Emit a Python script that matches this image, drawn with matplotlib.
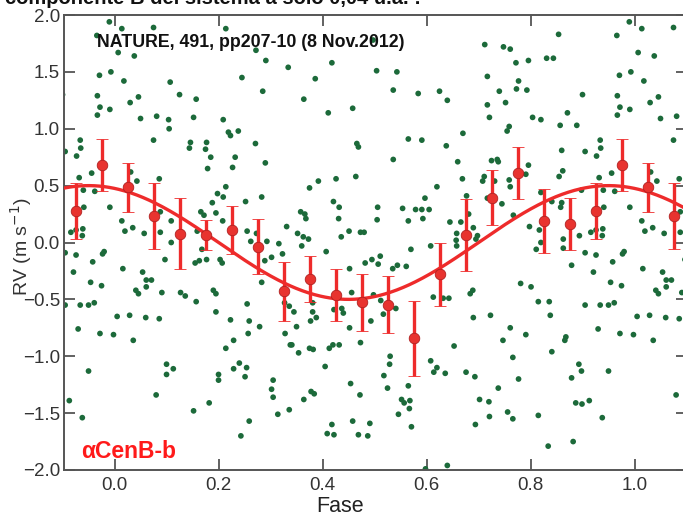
import numpy as np
import matplotlib
matplotlib.use("Agg")
import matplotlib.pyplot as plt

plt.rcParams['font.family'] = ['Liberation Sans', 'DejaVu Sans']

# ---------------- data (phase 0..1) ----------------
phase_obs = [
    0.014, 0.075, 0.214, 0.007, 0.038, 0.272, 0.291, 0.334, 0.018, 0.107, 0.245, 0.285, 0.046, 0.125, 0.157, 0.030,
    0.050, 0.081, 0.104, 0.105, 0.152, 0.209, 0.219, 0.223, 0.238, 0.075, 0.146, 0.144, 0.177, 0.175, 0.185, 0.232,
    0.271, 0.290, 0.227, 0.179, 0.031, 0.043, 0.086, 0.214, 0.198, 0.188, 0.209, 0.252, 0.283, 0.088, 0.166, 0.172,
    0.195, 0.014, 0.109, 0.208, 0.035, 0.020, 0.057, 0.088, 0.159, 0.255, 0.273, 0.331, 0.109, 0.316,
    0.262, 0.293, 0.168, 0.097, 0.155, 0.163, 0.177, 0.203, 0.207, 0.289, 0.302, 0.323, 0.016, 0.054, 0.061, 0.071,
    0.061, 0.283, 0.041, 0.046, 0.091, 0.127, 0.136, 0.190, 0.195, 0.157, 0.255, 0.327, 0.336, 0.005, 0.029, 0.060,
    0.086, 0.195, 0.223, 0.259, 0.279, 0.036, 0.257, 0.328, 0.229, 0.214, 0.338, 0.100, 0.113, 0.100, 0.240, 0.229,
    0.254, 0.251, 0.200, 0.200, 0.305, 0.302, 0.305, 0.080, 0.182, 0.152, 0.314, 0.336, 0.259, 0.243,
    0.497, 0.418, 0.386, 0.504, 0.543, 0.536, 0.364, 0.584, 0.625, 0.640, 0.411, 0.458, 0.670, 0.565, 0.591, 0.466,
    0.469, 0.638, 0.536, 0.660, 0.669, 0.375, 0.392, 0.426, 0.464, 0.620, 0.597, 0.677, 0.421, 0.432, 0.358, 0.366,
    0.368, 0.431, 0.506, 0.505, 0.554, 0.579, 0.591, 0.605, 0.565, 0.593, 0.352, 0.363, 0.373, 0.436, 0.451, 0.473,
    0.480, 0.645, 0.666, 0.658, 0.657, 0.681,
    0.360, 0.407, 0.511, 0.495, 0.482, 0.507, 0.535, 0.544, 0.561, 0.452, 0.570, 0.608, 0.658, 0.345, 0.381, 0.422,
    0.437, 0.440, 0.456, 0.498, 0.512, 0.517, 0.541, 0.381, 0.388, 0.377, 0.350, 0.452, 0.493, 0.613, 0.632, 0.643,
    0.684, 0.341, 0.354, 0.375, 0.382, 0.413, 0.420, 0.432, 0.473, 0.530, 0.529, 0.405, 0.518, 0.525, 0.454, 0.565,
    0.608, 0.620, 0.614, 0.636, 0.653, 0.676, 0.378, 0.384, 0.364, 0.472, 0.552, 0.557, 0.568, 0.567, 0.546, 0.458,
    0.491, 0.418, 0.409, 0.422, 0.469, 0.487, 0.571, 0.598, 0.640,
    0.990, 0.854, 0.966, 0.712, 0.748, 0.761, 0.772, 0.796, 0.831, 0.844, 0.717, 0.777, 0.773, 0.793, 0.740, 0.971,
    0.993, 0.900, 0.967, 0.717, 0.752, 0.972, 0.991, 0.721, 0.804, 0.820, 0.871, 0.967, 0.759, 0.755, 0.857, 0.889,
    0.934, 0.935, 0.860, 0.905, 0.927, 0.725, 0.736, 0.738, 0.796, 0.711, 0.708, 0.759, 0.761, 0.791, 0.862, 0.855,
    0.932, 0.956, 0.731, 0.820, 0.841, 0.860, 0.858, 0.898, 0.940, 0.962, 0.991, 0.745, 0.717, 0.690, 0.698, 0.695,
    0.767, 0.798, 0.817, 0.820, 0.863, 0.894, 0.916, 0.926, 0.939, 0.938, 0.941,
    0.689, 0.811, 0.863, 0.905, 0.926, 0.879, 0.921, 0.958, 0.977, 0.980, 0.781, 0.801, 0.954, 0.975, 0.815, 0.836,
    0.905, 0.934, 0.950, 0.961, 0.690, 0.723, 0.838, 0.761, 0.747, 0.791, 0.868, 0.866, 0.930, 0.972, 0.998, 0.766,
    0.841, 0.893, 0.898, 0.879, 0.950, 0.693, 0.777, 0.738, 0.702, 0.720, 0.887, 0.899, 0.913, 0.756, 0.766, 0.721,
    0.815, 0.938, 0.694, 0.834, 0.882,
]
rv_obs = [
    1.88, 1.89, 1.88, 1.67, 1.64, 1.69, 1.60, 1.54, 1.42, 1.41, 1.45, 1.33, 1.28, 1.30, 1.26, 1.23,
    1.09, 1.11, 1.08, 1.00, 1.10, 1.08, 0.97, 0.94, 0.98, 0.90, 0.88, 0.83, 0.88, 0.82, 0.75, 0.75,
    0.87, 0.70, 0.66, 0.65, 0.62, 0.54, 0.56, 0.49, 0.43, 0.35, 0.40, 0.36, 0.40, 0.27, 0.27, 0.24,
    0.26, 0.19, 0.19, 0.19, 0.13, 0.10, 0.08, 0.09, 0.10, 0.10, 0.08, 0.14, 0.00, -0.01,
    0.01, 0.01, -0.06, -0.15, -0.18, -0.16, -0.15, -0.15, -0.18, -0.16, -0.13, -0.10, -0.23, -0.26, -0.33, -0.33,
    -0.39, -0.35, -0.42, -0.45, -0.44, -0.44, -0.47, -0.42, -0.45, -0.52, -0.54, -0.53, -0.56, -0.65, -0.64, -0.66,
    -0.67, -0.61, -0.68, -0.69, -0.74, -0.86, -0.80, -0.80, -0.86, -0.93, -0.90, -1.07, -1.11, -1.16, -1.06, -1.11,
    -1.10, -1.18, -1.16, -1.21, -1.21, -1.29, -1.36, -1.34, -1.41, -1.48, -1.51, -1.47, -1.57, -1.70,
    1.78, 1.58, 1.44, 1.51, 1.50, 1.34, 1.26, 1.31, 1.33, 1.25, 1.14, 1.18, 0.96, 0.91, 0.90, 0.87,
    0.84, 0.85, 0.73, 0.71, 0.56, 0.48, 0.54, 0.56, 0.58, 0.49, 0.39, 0.41, 0.36, 0.31, 0.27, 0.25,
    0.21, 0.21, 0.31, 0.20, 0.30, 0.29, 0.29, 0.29, 0.19, 0.21, 0.08, 0.05, 0.03, 0.05, 0.10, 0.09,
    0.09, 0.18, 0.18, 0.08, 0.02, 0.25,
    -0.03, -0.08, -0.12, -0.15, -0.18, -0.19, -0.23, -0.20, -0.21, -0.23, -0.06, -0.03, -0.03, -0.61, -0.53, -0.59,
    -0.58, -0.62, -0.44, -0.46, -0.51, -0.63, -0.58, -0.61, -0.66, -0.69, -0.74, -0.75, -0.69, -0.48, -0.49, -0.49,
    -0.45, -0.90, -0.97, -0.93, -0.94, -0.93, -0.90, -0.90, -0.88, -1.00, -1.07, -1.09, -1.17, -1.28, -1.24, -1.26,
    -1.04, -1.10, -1.14, -1.15, -0.91, -1.14, -1.31, -1.33, -1.38, -1.34, -1.38, -1.41, -1.39, -1.46, -1.51, -1.57,
    -1.59, -1.60, -1.68, -1.69, -1.69, -1.70, -1.62, -1.99, -1.96,
    1.94, 1.83, 1.82, 1.74, 1.72, 1.70, 1.58, 1.60, 1.62, 1.62, 1.46, 1.42, 1.35, 1.34, 1.33, 1.47,
    1.50, 1.30, 1.29, 1.21, 1.23, 1.19, 1.17, 1.10, 1.10, 1.08, 1.14, 1.12, 1.02, 0.98, 1.03, 1.03,
    0.90, 0.83, 0.81, 0.80, 0.76, 0.72, 0.73, 0.71, 0.68, 0.58, 0.54, 0.55, 0.49, 0.60, 0.63, 0.58,
    0.57, 0.61, 0.54, 0.44, 0.36, 0.35, 0.31, 0.46, 0.46, 0.45, 0.31, 0.34, 0.39, 0.13, 0.06, 0.03,
    0.24, 0.14, 0.11, 0.00, 0.03, 0.06, 0.09, 0.11, 0.12, 0.06, 0.31,
    -0.42, -0.06, -0.05, -0.09, -0.11, -0.20, -0.26, -0.17, -0.10, -0.08, -0.36, -0.39, -0.35, -0.38, -0.52, -0.52,
    -0.55, -0.55, -0.55, -0.53, -0.66, -0.64, -0.64, -0.75, -0.86, -0.81, -0.83, -0.86, -0.76, -0.80, -0.81, -1.01,
    -0.96, -1.07, -1.13, -1.19, -1.13, -1.18, -1.20, -1.28, -1.38, -1.40, -1.41, -1.42, -1.39, -1.49, -1.55, -1.53,
    -1.52, -1.54, -1.60, -1.79, -1.75,
]

phase_bin = [0.025, 0.075, 0.125, 0.175, 0.225, 0.275, 0.325, 0.375, 0.425, 0.475,
             0.525, 0.575, 0.625, 0.675, 0.725, 0.775, 0.825, 0.875, 0.925, 0.975]
rv_bin = [0.485, 0.23, 0.077, 0.066, 0.11, -0.037, -0.43, -0.32, -0.46, -0.526,
          -0.547, -0.84, -0.28, 0.066, 0.394, 0.611, 0.186, 0.163, 0.277, 0.68]
rv_err = [0.215, 0.29, 0.31, 0.13, 0.21, 0.24, 0.26, 0.20, 0.23, 0.25,
          0.25, 0.33, 0.28, 0.32, 0.24, 0.23, 0.28, 0.23, 0.25, 0.23]

# sinusoidal fit (semi-amplitude in m/s, phase of maximum)
K_amp = 0.5
phase_peak = 0.95

x_ticks = [0.0, 0.2, 0.4, 0.6, 0.8, 1.0]
y_ticks = [-2.0, -1.5, -1.0, -0.5, 0.0, 0.5, 1.0, 1.5, 2.0]
phase_copies = [-1, 0, 1]

title_txt = "componente B del sistema a solo 0,04 u.a. !"
ref_txt = "NATURE, 491, pp207-10 (8 Nov.2012)"
planet_txt = "\u03b1CenB-b"

# ---------------- figure ----------------
W, H = 683, 517
fig = plt.figure(figsize=(W / 100, H / 100), dpi=100)
ax = fig.add_axes([64.1 / W, 47 / H, 622.4 / W, 455 / H])

ph = np.array(phase_obs)
rv = np.array(rv_obs)
for off in phase_copies:
    ax.scatter(ph + off, rv, s=17, color='#1c6a3a', edgecolors='none', zorder=2)

cx = np.linspace(-0.2, 1.2, 600)
ax.plot(cx, K_amp * np.cos(2 * np.pi * (cx - phase_peak)), color='#ee2b2b', lw=2.4, zorder=3)

pb = np.array(phase_bin)
for off in phase_copies:
    eb = ax.errorbar(pb + off, rv_bin, yerr=rv_err, fmt='o', ms=7.6,
                     mfc='#e8332f', mec='#b02020', mew=0.6,
                     ecolor='#ee2b2b', elinewidth=2.4, capsize=4.5, capthick=1.2, zorder=4)
    for cl in eb[1]:
        cl.set_color('#f39494')

ax.set_xlim(-0.097, 1.1)
ax.set_ylim(-2.0, 2.0)
ax.set_xticks(x_ticks)
ax.set_yticks(y_ticks)
ax.set_xticklabels([f"{v:.1f}" for v in x_ticks])
ax.set_yticklabels([f"{v:.1f}".replace('-', '\u2212') for v in y_ticks])
ax.tick_params(direction='in', length=8, width=1.3, color='#555555',
               top=True, right=True, labelsize=13.5, labelcolor='#333333')
ax.tick_params(axis='x', pad=5)
ax.tick_params(axis='y', pad=3)
for s in ax.spines.values():
    s.set_linewidth(1.4)
    s.set_color('#555555')

ax.text(-0.034, 1.755, ref_txt, fontsize=12.8, fontweight='bold', color='#111111',
        ha='left', va='center', zorder=5)
ax.text(-0.064, -1.84, planet_txt, fontsize=16.5, fontweight='bold', color='#ff1a1a',
        ha='left', va='center', zorder=5)

fig.text(21 / W, 1 - 247 / H, "RV (m s$^{-1}$)", rotation=90, ha='center', va='center',
         fontsize=14, color='#333333')
fig.text(340 / W, 1 - 507 / H, "Fase", ha='center', va='center', fontsize=15.5, color='#222222')
fig.text(5 / W, 1 - 4.5 / H, title_txt, ha='left', va='baseline', fontsize=14.5,
         fontweight='bold', color='#111111')

fig.savefig('out.png', dpi=100)
